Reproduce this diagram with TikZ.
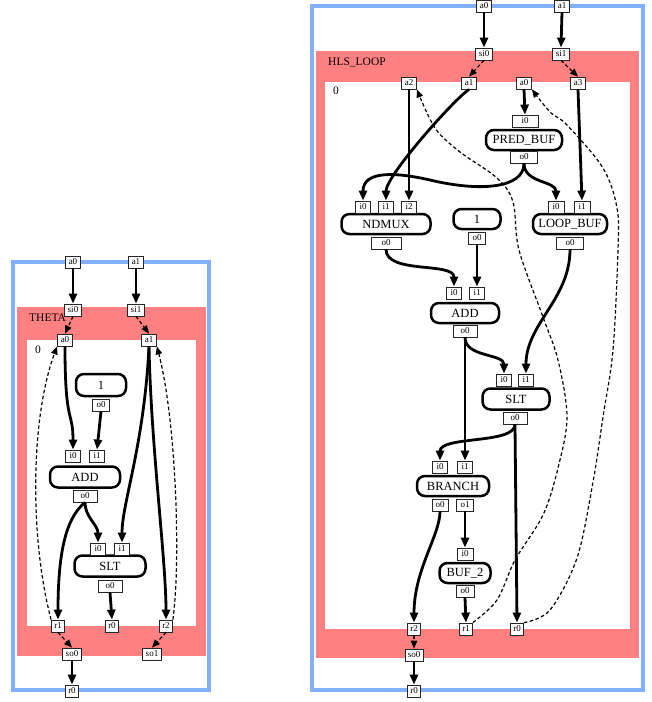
\documentclass[tikz,border=0pt]{standalone}
\usepackage{fontspec}
\setmainfont{Liberation Serif}
\usetikzlibrary{arrows.meta}
\definecolor{frameblue}{RGB}{130,176,255}
\definecolor{clusterred}{RGB}{255,128,128}
\newcommand\myopf{\fontsize{12.5}{12.5}\selectfont}
\newcommand\myptf{\fontsize{9}{9}\selectfont}
\newcommand\mylbf{\fontsize{11.5}{11.5}\selectfont}
\begin{document}
\begin{tikzpicture}[x=1pt,y=-1pt,
  port/.style={draw=black!85, line width=0.8pt, fill=white, inner sep=0.5pt, minimum width=15pt, minimum height=12pt, font=\myptf},
  op/.style={draw, line width=2.5pt, rounded corners=8pt, fill=white, inner sep=0pt, font=\myopf},
  tedge/.style={line width=2.8pt, -{Triangle[length=10pt,width=8pt]}},
  dedge/.style={line width=1.2pt, dash pattern=on 3.5pt off 2.5pt, -{Triangle[length=8pt,width=6.5pt]}},
  frame/.style={draw=frameblue, line width=4pt},
  lbl/.style={font=\mylbf, inner sep=0pt}
]
\useasboundingbox (0,0) rectangle (652,702);

% ================= LEFT: THETA =================
\draw[frame] (13,262) rectangle (209,690);
\fill[clusterred] (17,307) rectangle (206,656);
\fill[white] (27,340) rectangle (196,626);
\node[lbl, anchor=west] (Lthetalbl) at (29,318) {THETA};
\node[lbl] (Lzero) at (38,350) {0};

\node[port] (Lin0) at (73,262) {a0};
\node[port] (Lin1) at (136,262) {a1};
\node[port, minimum width=17pt] (Lsi0) at (73,310) {si0};
\node[port, minimum width=17pt] (Lsi1) at (136,310) {si1};
\node[port] (La0) at (65,340) {a0};
\node[port] (La1) at (149,340) {a1};

\node[op, minimum width=50pt, minimum height=22pt] (Lone) at (101,385) {1};
\node[port, minimum width=17pt] (Lone_o0) at (101,405) {o0};

\node[op, minimum width=70pt, minimum height=21pt] (Ladd) at (85,477) {ADD};
\node[port] (Ladd_i0) at (73,456) {i0};
\node[port] (Ladd_i1) at (97,456) {i1};
\node[port, minimum width=24pt] (Ladd_o0) at (85,496) {o0};

\node[op, minimum width=71pt, minimum height=21pt] (Lslt) at (110,566) {SLT};
\node[port] (Lslt_i0) at (98,549) {i0};
\node[port] (Lslt_i1) at (122,549) {i1};
\node[port, minimum width=24pt] (Lslt_o0) at (110,586) {o0};

\node[port, minimum width=13pt] (Lr1) at (58,626) {r1};
\node[port, minimum width=13pt] (Lr0) at (112,626) {r0};
\node[port, minimum width=13pt] (Lr2) at (166,626) {r2};
\node[port, minimum width=19pt] (Lso0) at (72,654) {so0};
\node[port, minimum width=19pt] (Lso1) at (152,654) {so1};
\node[port, minimum width=13pt] (Lout) at (72,691) {r0};

\draw[tedge] (Lin0.south) -- (Lsi0.north);
\draw[tedge] (Lin1.south) -- (Lsi1.north);
\draw[dedge] (Lsi0.south) -- (La0.north);
\draw[dedge] (Lsi1.south) -- (La1.north);
\draw[tedge] (La0.south) .. controls +(0,80) and +(0,-40) .. (Ladd_i0.north);
\draw[tedge] (Lone_o0.south) -- (Ladd_i1.north);
\draw[tedge] (La1.south) .. controls +(-5,100) and +(0,-40) .. (Lslt_i1.north);
\draw[tedge] (La1.south) .. controls +(2,100) and +(0,-60) .. (Lr2.north);
\draw[tedge] (Ladd_o0.south) .. controls +(0,15) and +(0,-18) .. (Lslt_i0.north);
\draw[tedge] (Ladd_o0.south) .. controls (70,515) and (58,540) .. (Lr1.north);
\draw[tedge] (Lslt_o0.south) -- (Lr0.north);
\draw[dedge] (Lr1.north west) .. controls (30,540) and (30,420) .. (La0.south west);
\draw[dedge] (Lr2.north east) .. controls (181,560) and (176,420) .. (La1.south east);
\draw[dedge] (Lr1.south) -- (Lso0.north);
\draw[dedge] (Lr2.south) -- (Lso1.north);
\draw[tedge] (Lso0.south) -- (Lout.north);

% ================= RIGHT: HLS_LOOP =================
\draw[frame] (312,6) rectangle (643,690);
\fill[clusterred] (316,51) rectangle (639,658);
\fill[white] (325,82) rectangle (630,629);
\node[lbl, anchor=west] (Rhlslbl) at (328,62) {HLS\_LOOP};
\node[lbl] (Rzero) at (336,91) {0};

\node[port] (Rin0) at (484,6) {a0};
\node[port] (Rin1) at (562,6) {a1};
\node[port, minimum width=17pt] (Rsi0) at (484,54) {si0};
\node[port, minimum width=17pt] (Rsi1) at (561,54) {si1};
\node[port] (Ra2) at (409,83) {a2};
\node[port] (Ra1) at (469,83) {a1};
\node[port] (Ra0) at (524,83) {a0};
\node[port] (Ra3) at (578,83) {a3};

\node[op, minimum width=76pt, minimum height=20pt] (Rpred) at (524,140) {PRED\_BUF};
\node[port, minimum width=26pt] (Rpred_i0) at (525,121) {i0};
\node[port, minimum width=27pt] (Rpred_o0) at (524,157) {o0};

\node[op, minimum width=89pt, minimum height=20pt] (Rnd) at (386,224) {NDMUX};
\node[port] (Rnd_i0) at (363,207) {i0};
\node[port] (Rnd_i1) at (386,207) {i1};
\node[port] (Rnd_i2) at (409,207) {i2};
\node[port, minimum width=30pt] (Rnd_o0) at (386,243) {o0};

\node[op, minimum width=47pt, minimum height=20pt] (Rone) at (477,219) {1};
\node[port, minimum width=17pt] (Rone_o0) at (477,238) {o0};

\node[op, minimum width=74pt, minimum height=20pt] (Rloop) at (570,224) {LOOP\_BUF};
\node[port, minimum width=16pt] (Rloop_i0) at (556,207) {i0};
\node[port, minimum width=16pt] (Rloop_i1) at (582,207) {i1};
\node[port, minimum width=27pt] (Rloop_o0) at (570,243) {o0};

\node[op, minimum width=68pt, minimum height=20pt] (Radd) at (465,313) {ADD};
\node[port] (Radd_i0) at (454,293) {i0};
\node[port] (Radd_i1) at (477,293) {i1};
\node[port, minimum width=24pt] (Radd_o0) at (465,331) {o0};

\node[op, minimum width=67pt, minimum height=21pt] (Rslt) at (516,399) {SLT};
\node[port] (Rslt_i0) at (504,380) {i0};
\node[port] (Rslt_i1) at (526,380) {i1};
\node[port, minimum width=24pt] (Rslt_o0) at (515,418) {o0};

\node[op, minimum width=72pt, minimum height=20pt] (Rbr) at (453,486) {BRANCH};
\node[port] (Rbr_i0) at (440,467) {i0};
\node[port] (Rbr_i1) at (465,467) {i1};
\node[port, minimum width=16pt] (Rbr_o0) at (440,505) {o0};
\node[port, minimum width=17pt] (Rbr_o1) at (465,505) {o1};

\node[op, minimum width=51pt, minimum height=20pt] (Rbuf) at (465,573) {BUF\_2};
\node[port, minimum width=16pt] (Rbuf_i0) at (465,554) {i0};
\node[port, minimum width=18pt] (Rbuf_o0) at (465,591) {o0};

\node[port, minimum width=13pt] (Rr2) at (414,629) {r2};
\node[port, minimum width=13pt] (Rr1) at (466,629) {r1};
\node[port, minimum width=13pt] (Rr0) at (517,629) {r0};
\node[port, minimum width=18pt] (Rso0) at (414,655) {so0};
\node[port, minimum width=13pt] (Rout) at (414,691) {r0};

\draw[tedge] (Rin0.south) -- (Rsi0.north);
\draw[tedge] (Rin1.south) -- (Rsi1.north);
\draw[dedge] (Rsi0.south) -- (Ra1.north);
\draw[dedge] (Rsi1.south) -- (Ra3.north);
\draw[tedge] (Ra0.south) -- (Rpred_i0.north);
\draw[tedge] (Ra1.south) .. controls +(-15,10) and +(0,-25) .. (Rnd_i1.north);
\draw[tedge] (Ra2.south) -- (Rnd_i2.north);
\draw[tedge] (Rpred_o0.south) .. controls +(0,25) and (480,192) .. (430,180) .. controls (395,172) and +(0,-30) .. (Rnd_i0.north);
\draw[tedge] (Rpred_o0.south) .. controls +(0,20) and +(0,-20) .. (Rloop_i0.north);
\draw[tedge] (Ra3.south) -- (Rloop_i1.north);
\draw[tedge] (Rnd_o0.south) .. controls +(0,25) and +(0,-25) .. (Radd_i0.north);
\draw[tedge] (Rone_o0.south) -- (Radd_i1.north);
\draw[tedge] (Rloop_o0.south) .. controls +(0,50) and +(0,-50) .. (Rslt_i1.north);
\draw[tedge] (Radd_o0.south) .. controls +(0,20) and +(0,-20) .. (Rslt_i0.north);
\draw[tedge] (Radd_o0.south) -- (Rbr_i1.north);
\draw[tedge] (Rslt_o0.south) .. controls +(0,20) and +(0,-25) .. (Rbr_i0.north);
\draw[tedge] (Rslt_o0.south) -- (Rr0.north);
\draw[tedge] (Rbr_o1.south) -- (Rbuf_i0.north);
\draw[tedge] (Rbr_o0.south) .. controls +(0,24) and +(0,-53) .. (Rr2.north);
\draw[tedge] (Rbuf_o0.south) -- (Rr1.north);
\draw[dedge] (Rr2.south) -- (Rso0.north);
\draw[tedge] (Rso0.south) -- (Rout.north);
\draw[dedge] plot[smooth, tension=0.55] coordinates {(Rr1.north east) (497,600) (515,560) (543,515) (558,468) (567,417) (558,360) (543,317) (519,250) (513,202) (497,178) (460,152) (435,128) (Ra2.south east)};
\draw[dedge] plot[smooth, tension=0.55] coordinates {(Rr0.north east) (550,610) (577,558) (593,482) (603,417) (613,350) (618,250) (617,208) (603,168) (567,125) (550,112) (Ra0.south east)};
\end{tikzpicture}
\end{document}
